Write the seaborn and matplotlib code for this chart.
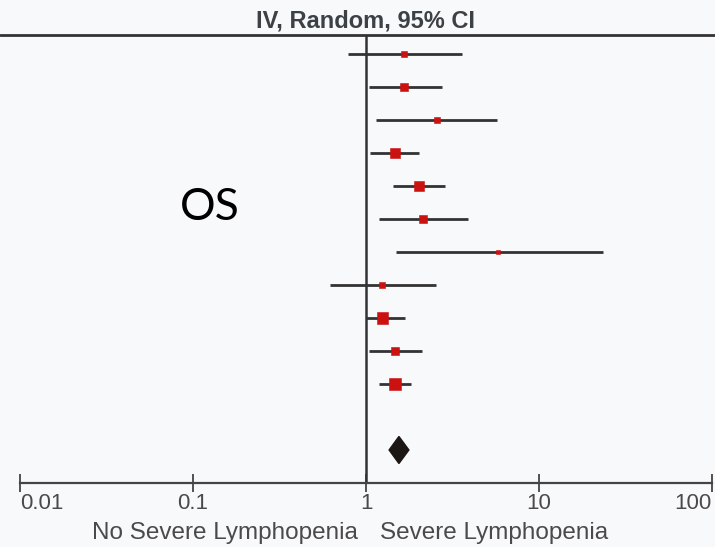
import numpy as np
import pandas as pd
import matplotlib
matplotlib.use("Agg")
import matplotlib.pyplot as plt
import seaborn as sns
from matplotlib.ticker import FixedLocator, NullLocator, FixedFormatter

# ---- data (hazard ratios, 95% CI, weights) ----
study = [f"S{i}" for i in range(1, 12)]
hr = [1.66, 1.66, 2.57, 1.47, 2.02, 2.14, 5.8, 1.24, 1.25, 1.47, 1.47]
ci_low = [0.79, 1.04, 1.14, 1.05, 1.43, 1.19, 1.49, 0.62, 1.00, 1.04, 1.19]
ci_high = [3.59, 2.75, 5.72, 2.02, 2.86, 3.89, 23.4, 2.54, 1.68, 2.11, 1.82]
weight = [4.3, 7.7, 5.9, 12.0, 12.0, 7.7, 1.9, 4.3, 17.3, 9.7, 17.3]
pooled = [1.55, 1.36, 1.77]  # estimate, low, high
tick_values = [0.01, 0.1, 1, 10, 100]
tick_labels = ["0.01", "0.1", "1", "10", "100"]

df = pd.DataFrame({"study": study, "hr": hr, "lo": ci_low, "hi": ci_high,
                   "w": weight, "row": np.arange(len(study))})

sns.set_theme(style="white")
plt.rcParams["font.family"] = ["Liberation Sans", "DejaVu Sans"]

bg = "#f8f9fb"
fig = plt.figure(figsize=(7.15, 5.47), dpi=100, facecolor=bg)
ax = fig.add_axes([0, 0, 1, 1], facecolor=bg)

ax.set_xscale("log")
ax.set_xlim(10 ** (-2 - 20 / 173), 10 ** (2 + 3 / 173))
ax.set_ylim(14.94, -1.636)

# CI lines
ax.hlines(df["row"], df["lo"], df["hi"], color="#333333", lw=2.0, zorder=2)
# point estimates
sns.scatterplot(data=df, x="hr", y="row", size="w", sizes=(0, 68),
                size_norm=(0, max(weight)), marker="s", color="#cc1111",
                edgecolor="#cc1111", linewidth=0.4, legend=False, ax=ax, zorder=3)

# pooled diamond
drow = len(study) + 1
ax.fill([pooled[1], pooled[0], pooled[2], pooled[0]],
        [drow, drow - 0.41, drow, drow + 0.41], color="#1c1714", zorder=3)

# line of no effect and top rule
ax.vlines(1, -0.58, 13, color="#333333", lw=1.8, zorder=1)
ax.axhline(-0.58, color="#333333", lw=2.0)

# axis
for s in ["top", "left", "right"]:
    ax.spines[s].set_visible(False)
ax.spines["bottom"].set_position(("data", 13))
ax.spines["bottom"].set_bounds(0.01, 100)
ax.spines["bottom"].set_color("#444444")
ax.spines["bottom"].set_linewidth(1.6)
ax.xaxis.set_major_locator(FixedLocator(tick_values))
ax.xaxis.set_major_formatter(FixedFormatter(tick_labels))
ax.xaxis.set_minor_locator(NullLocator())
ax.tick_params(axis="x", direction="inout", length=13, width=1.3,
               color="#444444", labelsize=16, labelcolor="#4a4a4a", pad=1,
               bottom=True)
ax.set_yticks([])
ax.set_xlabel("")
ax.set_ylabel("")
labs = ax.get_xticklabels()
labs[0].set_ha("left")
labs[-1].set_ha("right")

# texts
ax.text(1, -1.0, "IV, Random, 95% CI", ha="center", va="center",
        fontsize=17, fontweight="bold", color="#3c4146")
ax.text(0.125, 4.65, "OS", ha="center", va="center", fontsize=32,
        color="black", family=["Lato", "DejaVu Sans"])
fig.text(358 / 715, 1 - 533 / 547, "No Severe Lymphopenia", ha="right",
         va="center", fontsize=17.5, color="#4a4a4a")
fig.text(380 / 715, 1 - 533 / 547, "Severe Lymphopenia", ha="left",
         va="center", fontsize=17.5, color="#4a4a4a")

fig.savefig("out.png", dpi=100, facecolor=bg)
